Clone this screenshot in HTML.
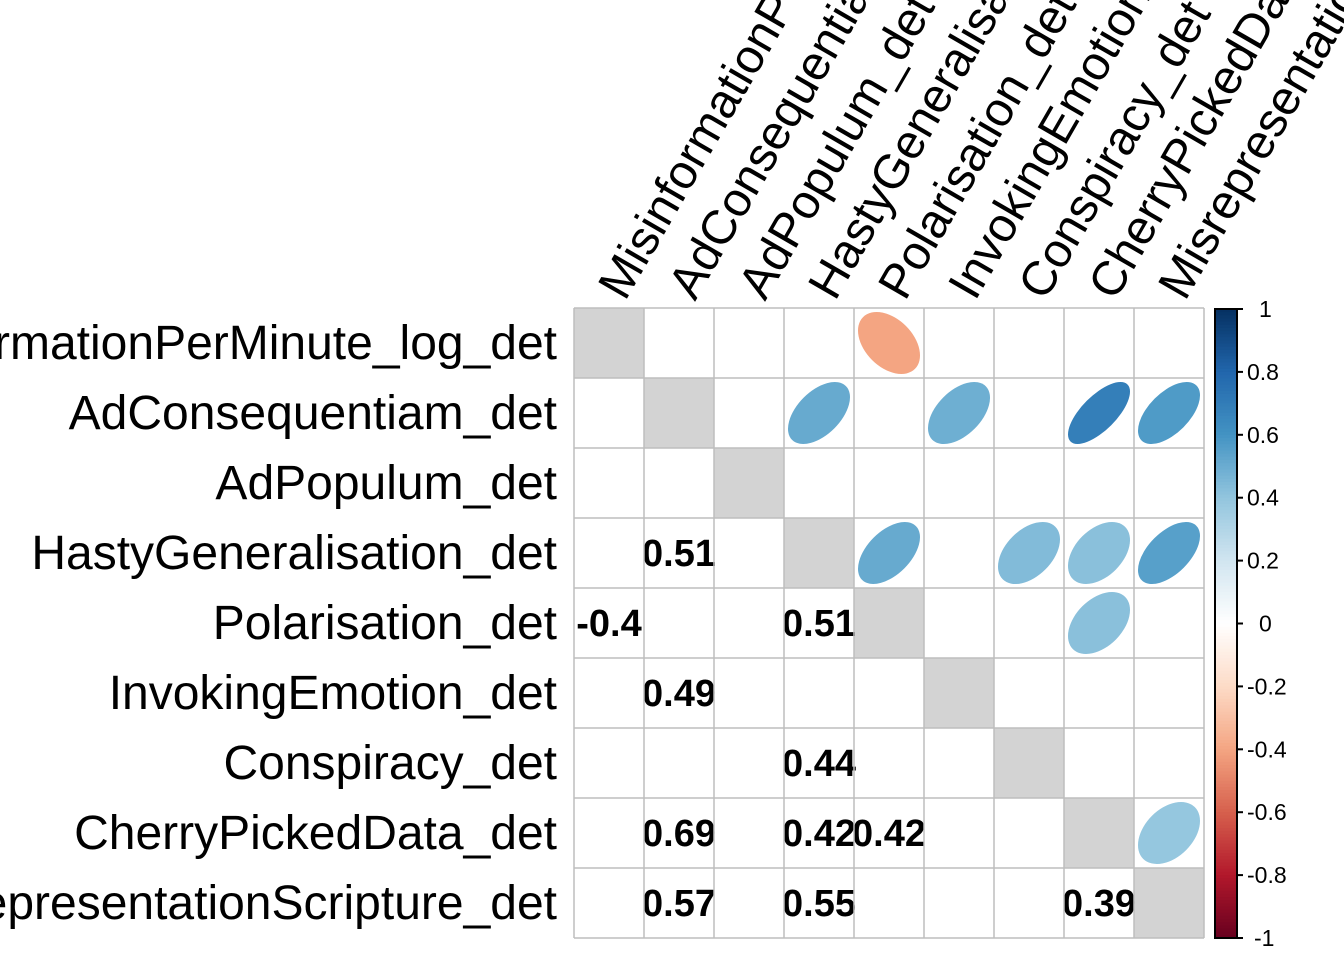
<!DOCTYPE html>
<html><head><meta charset="utf-8"><style>
html,body{margin:0;padding:0;background:#fff;}
svg{display:block;font-family:"Liberation Sans",Arial,sans-serif;}
</style></head><body>
<svg id="chart" width="1344" height="960" viewBox="0 0 1344 960" xmlns="http://www.w3.org/2000/svg"></svg>
<script>
const labels = ["MisinformationPerMinute_log_det","AdConsequentiam_det","AdPopulum_det","HastyGeneralisation_det","Polarisation_det","InvokingEmotion_det","Conspiracy_det","CherryPickedData_det","MisrepresentationScripture_det"];
const pairRow = [0,1,1,1,1,3,3,3,3,4,7];
const pairCol = [4,3,5,7,8,4,6,7,8,7,8];
const pairVal = [-0.4,0.51,0.49,0.69,0.57,0.51,0.44,0.42,0.55,0.42,0.39];
const barTicks = [1,0.8,0.6,0.4,0.2,0,-0.2,-0.4,-0.6,-0.8,-1];

const NS="http://www.w3.org/2000/svg";
const svg=document.getElementById('chart');
const X0=574,Y0=308,C=70,N=labels.length;
function mk(t,a,p){const e=document.createElementNS(NS,t);for(const k in a)e.setAttribute(k,a[k]);(p||svg).appendChild(e);return e;}
const stops=[[-1,[103,0,31]],[-0.8,[178,24,43]],[-0.6,[214,96,77]],[-0.4,[244,165,130]],[-0.2,[253,219,199]],[0,[255,255,255]],[0.2,[209,229,240]],[0.4,[146,197,222]],[0.6,[67,147,195]],[0.8,[33,102,172]],[1,[5,48,97]]];
function col(v){for(let i=0;i<stops.length-1;i++){const [a,ca]=stops[i],[b,cb]=stops[i+1];if(v>=a&&v<=b){const t=(v-a)/(b-a);return 'rgb('+ca.map((c,j)=>Math.round(c+(cb[j]-c)*t)).join(',')+')';}}return '#fff';}
const xs=i=>X0+C*i, ys=i=>Y0+C*i;

for(let i=0;i<N;i++){
  const r=mk('rect',{x:xs(i),y:ys(i),width:C,height:C,fill:'#D3D3D3'});
  
  
}
for(let k=0;k<pairVal.length;k++){
  const r=pairRow[k],c=pairCol[k],v=pairVal[k];
  const cx=xs(c)+C/2,cy=ys(r)+C/2,s=31;
  const e=mk('ellipse',{cx:cx,cy:cy,rx:s*Math.sqrt(1+Math.abs(v)),ry:s*Math.sqrt(1-Math.abs(v)),fill:col(v),transform:'rotate('+(v>0?-45:45)+' '+cx+' '+cy+')'});
  
  
  const t=mk('text',{x:xs(r)+C/2,y:ys(c)+C/2+13,'text-anchor':'middle','font-size':38,'font-weight':'bold',fill:'#000'});
  t.textContent=String(v);
  
  
}
for(let i=0;i<=N;i++){
  mk('line',{x1:xs(i),y1:Y0,x2:xs(i),y2:Y0+C*N,stroke:'#BEBEBE','stroke-width':1.5});
  mk('line',{x1:X0,y1:ys(i),x2:X0+C*N,y2:ys(i),stroke:'#BEBEBE','stroke-width':1.5});
}
for(let i=0;i<N;i++){
  const t=mk('text',{x:557,y:ys(i)+C/2+16,'text-anchor':'end','font-size':48,fill:'#000'});
  t.textContent=labels[i];
  
  
  const cx=xs(i)+C/2+16,cy=302;
  const u=mk('text',{x:cx,y:cy,'font-size':48,fill:'#000',transform:'rotate(-60 '+cx+' '+cy+')'});
  u.textContent=labels[i];
  
  
}
const BX=1215,BW=22,BT=309,BB=938;
const g=mk('g',{});


for(let i=0;i<200;i++){
  const v=1-2*(i+0.5)/200;
  mk('rect',{x:BX,y:BT+(BB-BT)*i/200,width:BW,height:(BB-BT)/200+0.6,fill:col(v)},g);
}
mk('rect',{x:BX,y:BT,width:BW,height:BB-BT,fill:'none',stroke:'#000','stroke-width':2},g);
for(const tv of barTicks){
  const y=BT+(1-tv)/2*(BB-BT);
  mk('line',{x1:BX+BW,y1:y,x2:BX+BW+6,y2:y,stroke:'#000','stroke-width':2},g);
  const t=mk('text',{x:tv===1||tv===0?1259:(tv===-1?1254:1247),y:y+8,'font-size':23,fill:'#000'},g);
  t.textContent=String(tv);
  
  
}
</script>
</body></html>
